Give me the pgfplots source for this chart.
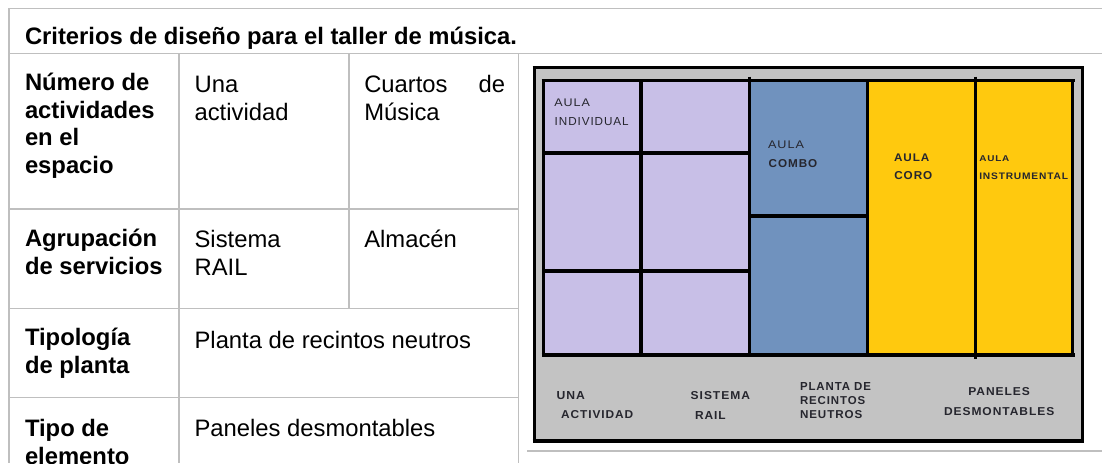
\documentclass[border=0pt]{standalone}
\usepackage{graphicx}
\usepackage{fontspec}
\setmainfont{Liberation Sans}
\usepackage{pgfplots}
\pgfplotsset{compat=1.18}
\definecolor{tline}{HTML}{BFBFBF}
\definecolor{lila}{HTML}{C8BFE7}
\definecolor{azul}{HTML}{7092BE}
\definecolor{amar}{HTML}{FFC90E}
\definecolor{gris}{HTML}{C3C3C3}
\definecolor{ink}{HTML}{26262E}
\newcommand{\seg}[6]{\addplot[draw=#5,line width=#6pt,no markers,forget plot] coordinates {(#1,#2) (#3,#4)};}
\newcommand{\rct}[5]{\addplot[fill=#5,draw=none,no markers,forget plot] coordinates {(#1,#2) (#3,#2) (#3,#4) (#1,#4)} -- cycle;}
\newcommand{\lbl}[5]{\node[anchor=south west,inner sep=0pt,outer sep=0pt,text=ink] at (axis cs:#1,#3) {\resizebox{#2pt}{#4pt}{\addfontfeature{LetterSpace=8}#5}};}
\newcommand{\lbb}[5]{\node[anchor=south west,inner sep=0pt,outer sep=0pt,text=ink] at (axis cs:#1,#3) {\resizebox{#2pt}{#4pt}{\bfseries\addfontfeature{LetterSpace=8}#5}};}
\newcommand{\tx}[3]{\node[anchor=base west,inner sep=0pt,outer sep=0pt,text=black] at (axis cs:#1,#2) {\fontsize{23.8}{27}\selectfont #3};}
\newcommand{\bt}[3]{\node[anchor=base west,inner sep=0pt,outer sep=0pt,text=black] at (axis cs:#1,#2) {\fontsize{23.8}{27}\selectfont\bfseries #3};}
\begin{document}
\begin{tikzpicture}
\clip (0,0) rectangle (1102pt,463pt);
\begin{axis}[at={(0,0)},anchor=south west,scale only axis,width=1102pt,height=463pt,
  xmin=0,xmax=1102,ymin=0,ymax=463,y dir=reverse,hide axis,clip=false]
\rct{0}{0}{1102}{463}{white}
% table rules
\seg{8}{8.3}{1102}{8.3}{tline}{1.6}
\seg{8}{53.3}{1102}{53.3}{tline}{1.6}
\seg{9}{8}{9}{463}{tline}{1.6}
\seg{179}{53.3}{179}{463}{tline}{1.6}
\seg{349}{53.3}{349}{308.3}{tline}{1.6}
\seg{518.6}{53.3}{518.6}{463}{tline}{1.6}
\seg{8}{209}{519}{209}{tline}{1.6}
\seg{8}{308.3}{519}{308.3}{tline}{1.6}
\seg{8}{397.3}{519}{397.3}{tline}{1.6}
\seg{527}{451}{1102}{451}{tline}{1.6}
% table text
\bt{25}{44.3}{Criterios de diseño para el taller de música.}
\bt{25}{90.7}{Número de}
\bt{25}{118.3}{actividades}
\bt{25}{145.7}{en el}
\bt{25}{173.3}{espacio}
\tx{194.6}{92.3}{Una}
\tx{194.6}{120}{actividad}
\tx{364.3}{92.3}{Cuartos}
\tx{478.7}{92.3}{de}
\tx{364.3}{120}{Música}
\bt{25}{246}{Agrupación}
\bt{25}{274}{de servicios}
\tx{194.6}{247.3}{Sistema}
\tx{194.6}{275}{RAIL}
\tx{364.3}{247.3}{Almacén}
\bt{25}{345}{Tipología}
\bt{25}{373.3}{de planta}
\tx{194.6}{348}{Planta de recintos neutros}
\bt{25}{436}{Tipo de}
\bt{25}{464}{elemento}
\tx{194.6}{436}{Paneles desmontables}
% diagram
\rct{534}{67.5}{1082.5}{441}{gris}
\rct{543}{80}{749.5}{355.5}{lila}
\rct{749.5}{80}{867.5}{355.5}{azul}
\rct{867.5}{80}{1073}{355.5}{amar}
\seg{532.7}{67.5}{1084.2}{67.5}{black}{3.4}
\seg{532.7}{440.5}{1084.2}{440.5}{black}{4}
\seg{534.6}{66}{534.6}{442.5}{black}{3.6}
\seg{1082.5}{66}{1082.5}{442.5}{black}{3.4}
\seg{541.6}{80.3}{1074.6}{80.3}{black}{3.2}
\seg{541.6}{355.3}{1074.6}{355.3}{black}{3.8}
\seg{543.3}{79}{543.3}{357}{black}{3.2}
\seg{1072.8}{79}{1072.8}{357}{black}{3.2}
\seg{641}{80}{641}{355}{black}{3.2}
\seg{749.5}{76.7}{749.5}{355}{black}{3}
\seg{867.5}{80}{867.5}{355}{black}{3}
\seg{975.5}{76.7}{975.5}{358.7}{black}{3}
\seg{543}{152.5}{749}{152.5}{black}{4}
\seg{543}{270.8}{749}{270.8}{black}{4}
\seg{749}{216}{867}{216}{black}{4}
% diagram labels: x-left, width, baseline y, cap height
\lbl{554.3}{35.7}{106.7}{7.6}{AULA}
\lbl{554.7}{74}{126}{8}{INDIVIDUAL}
\lbl{768}{36}{148.7}{7.6}{AULA}
\lbb{768.7}{48.6}{167.3}{8}{COMBO}
\lbb{894}{35.3}{161.7}{7.6}{AULA}
\lbb{894.3}{38}{180}{8}{CORO}
\lbb{979.3}{30}{161.3}{5.8}{AULA}
\lbb{979.3}{88.7}{180}{6.6}{INSTRUMENTAL}
\lbb{556.7}{28.3}{400}{8}{UNA}
\lbb{561}{72.3}{419}{8}{ACTIVIDAD}
\lbb{690.7}{59.3}{400}{8}{SISTEMA}
\lbb{695}{30.7}{419}{8}{RAIL}
\lbb{800}{71}{390}{8}{PLANTA DE}
\lbb{800}{65.3}{404.3}{8}{RECINTOS}
\lbb{800}{62.3}{418.7}{8}{NEUTROS}
\lbb{968.3}{61.7}{396}{8}{PANELES}
\lbb{944}{110.3}{415.7}{8}{DESMONTABLES}
\end{axis}
\end{tikzpicture}
\end{document}
